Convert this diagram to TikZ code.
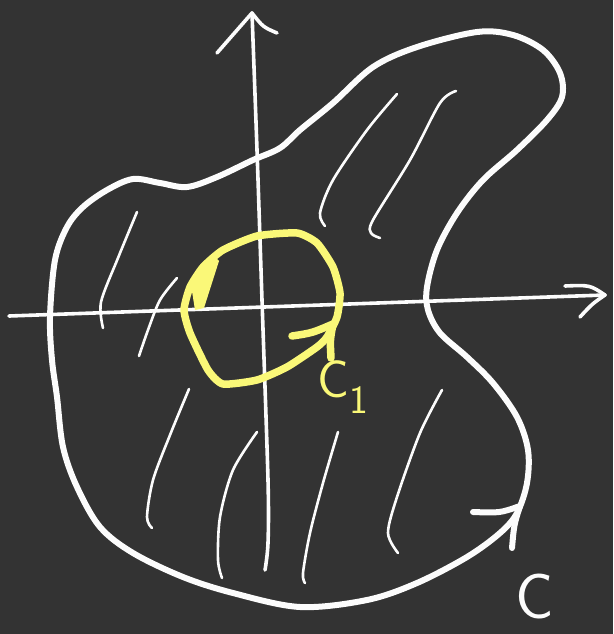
\documentclass[tikz,border=0pt]{standalone}
\usepackage{fontspec}
\usepackage{tikz}
\usetikzlibrary{calc}
\definecolor{board}{RGB}{51,51,51}
\definecolor{chalk}{RGB}{252,252,252}
\definecolor{lemon}{RGB}{250,248,120}
\tikzset{
  axis/.style={draw=chalk,line width=3.6pt,line cap=round,line join=round},
  rim/.style={draw=chalk,line width=6pt,line cap=round,line join=round},
  hatch/.style={draw=chalk,line width=2.6pt,line cap=round,line join=round},
  loop/.style={draw=lemon,line width=7.5pt,line cap=round,line join=round},
  tag/.style={inner sep=0pt,font=\sffamily,text=#1},
  tag/.default=chalk,
}

\begin{document}
\begin{tikzpicture}[x=1pt,y=-1pt]
    \fill[board] (0,0) rectangle (613,634);
    \useasboundingbox (0,0) rectangle (613,634);
    % hatching
    \draw[hatch] plot[smooth] coordinates {(137,212) (118,258) (101,302) (103,328)};
    \draw[hatch] plot[smooth] coordinates {(177,278) (160,300) (148,330) (139,356)};
    \draw[hatch] plot[smooth] coordinates {(189,389) (170,435) (153,480) (147,517) (152,528)};
    \draw[hatch] plot[smooth] coordinates {(257,432) (233,470) (220,517) (218,560) (222,578)};
    \draw[hatch] plot[smooth] coordinates {(397,94) (367,130) (333,180) (320,213) (325,226)};
    \draw[hatch] plot[smooth] coordinates {(456,91) (440,103) (410,160) (373,220) (371,233) (380,238)};
    \draw[hatch] plot[smooth] coordinates {(338,432) (323,483) (310,533) (303,573) (305,583)};
    \draw[hatch] plot[smooth] coordinates {(442,390) (420,433) (397,497) (388,533) (398,553)};
    % axes
    \coordinate (xl) at (9,316);
    \coordinate (xr) at (605,295);
    \coordinate (yt) at (252,13);
    \coordinate (yb) at (265,570);
    \draw[axis] (xl) -- (xr);
    \draw[axis] (565,286) .. controls (590,285) .. (xr) .. controls (592,304) .. (580,317);
    \draw[axis] plot[smooth] coordinates {(yt) (257,150) (262,300) (268,480) (268,543) (yb)};
    \draw[axis] (217,53) -- (yt) .. controls (263,27) .. (277,33);
    % outer curve C
    \draw[rim] plot[smooth cycle,tension=0.55] coordinates {
      (50,317) (55,260) (67,227) (83,207) (107,190) (133,179) (160,183)
      (187,187) (217,177) (253,160) (280,148) (300,130) (333,103) (373,67)
      (417,47) (477,32) (513,35) (543,50) (560,73) (562,97) (547,120)
      (517,150) (483,180) (457,213) (437,250) (427,287) (428,310) (440,333)
      (467,357) (493,383) (517,417) (528,450) (527,483) (517,513) (500,533)
      (467,557) (417,583) (367,600) (300,607) (233,593) (183,577) (133,553)
      (100,527) (77,487) (63,447) (57,397) (52,360)};
    \coordinate (ctip) at (520,506);
    \draw[rim] (473,512) .. controls (500,513) .. (ctip) .. controls (514,525) .. (512,548);
    \node[tag,anchor=base west,font=\sffamily\fontsize{64}{64}\selectfont] (clbl) at (515,618) {C};
    % inner circle C_1
    \draw[loop] plot[smooth cycle,tension=0.35] coordinates {
      (223,384) (208,370) (190,333) (184,310) (190,287) (203,267) (223,250)
      (257,236) (297,233) (317,243) (333,267) (340,293) (337,317) (327,337)
      (317,347) (287,367) (257,380)};
    \fill[lemon] (213,255) -- (219,261) -- (204,308) -- (195,310) -- (191,285) -- (202,267) -- cycle;
    \coordinate (ttip) at (333,324);
    \draw[loop] (292,336) .. controls (312,333) .. (ttip) .. controls (330,340) .. (331,358);
    \node[tag=lemon,anchor=base west,font=\sffamily\fontsize{53}{53}\selectfont] (c1lbl) at (317,397)
      {C\raisebox{-16pt}{\fontsize{40}{40}\selectfont 1}};
\end{tikzpicture}
\end{document}
